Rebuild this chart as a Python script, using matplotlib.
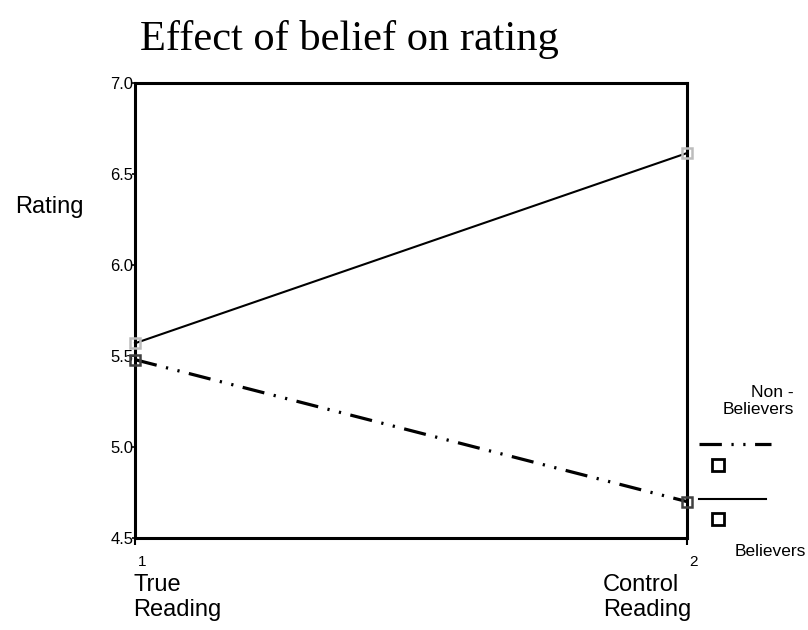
import matplotlib
matplotlib.use("Agg")
import matplotlib.pyplot as plt
from matplotlib.lines import Line2D
from matplotlib.transforms import ScaledTranslation

# ---- data ----
conditions = [1, 2]
believers = [5.57, 6.615]
non_believers = [5.48, 4.70]
category_labels = ["True\nReading", "Control\nReading"]
y_ticks = [4.5, 5.0, 5.5, 6.0, 6.5, 7.0]
y_tick_labels = ["4.5", "5.0", "5.5", "6.0", "6.5", "7.0"]
title = "Effect of belief on rating"
ylabel = "Rating"
series_names = ["Non -\nBelievers", "Believers"]

W, H = 808, 630
fig = plt.figure(figsize=(W / 100, H / 100), dpi=100)
plt.rcParams['font.family'] = ['Liberation Sans', 'DejaVu Sans']

def fx(px):
    return px / W

def fy(py):
    return 1 - py / H

ax = fig.add_axes([fx(135), fy(538), fx(687) - fx(135), fy(83) - fy(538)])

dash = (0, (7, 3, 0.7, 3, 0.7, 3))

ax.plot(conditions, believers, color='black', lw=1.5, zorder=3, clip_on=False)
ax.plot(conditions, believers, linestyle='none', marker='s', ms=7.5,
        mfc='none', mec='#bdbdbd', mew=1.8, zorder=4, clip_on=False)
ax.plot(conditions, non_believers, color='black', lw=2.3, linestyle=dash,
        zorder=3, clip_on=False)
ax.plot(conditions, non_believers, linestyle='none', marker='s', ms=7.5,
        mfc='none', mec='#404040', mew=1.8, zorder=4, clip_on=False)

ax.set_xlim(1, 2)
ax.set_ylim(4.5, 7.0)
ax.set_yticks(y_ticks)
ax.set_yticklabels(y_tick_labels, fontsize=12)
ax.set_xticks(conditions)
ax.set_xticklabels([str(c) for c in conditions], fontsize=11)
ax.tick_params(axis='y', direction='out', length=2.5, width=1.2, pad=-1.5)
ax.tick_params(axis='x', direction='out', length=5, width=1.5, pad=7)
for lab in ax.get_xticklabels():
    lab.set_transform(lab.get_transform() + ScaledTranslation(7 / 100, 0, fig.dpi_scale_trans))
for sp in ax.spines.values():
    sp.set_linewidth(2.2)
    sp.set_color('black')

# title and axis labels
fig.text(fx(140), fy(50), title, fontsize=30.5, family=['Liberation Serif', 'DejaVu Serif'],
         ha='left', va='baseline')
fig.text(fx(15), fy(207), ylabel, fontsize=17, ha='left', va='center')

cat_px = [133, 603]
for lab, px in zip(category_labels, cat_px):
    fig.text(fx(px), fy(574), lab, fontsize=17, ha='left', va='top', linespacing=1.2)

# legend (custom layout)
fig.add_artist(Line2D([fx(699), fx(771)], [fy(444), fy(444)], color='black', lw=2.3,
                      linestyle=dash, transform=fig.transFigure))
fig.add_artist(Line2D([fx(718)], [fy(465)], marker='s', ms=8, mfc='none', mec='black',
                      mew=2, linestyle='none', transform=fig.transFigure))
fig.add_artist(Line2D([fx(699), fx(766)], [fy(499), fy(499)], color='black', lw=1.5,
                      transform=fig.transFigure))
fig.add_artist(Line2D([fx(718)], [fy(519)], marker='s', ms=8, mfc='none', mec='black',
                      mew=2, linestyle='none', transform=fig.transFigure))
fig.text(fx(794), fy(401), series_names[0], fontsize=12.5, ha='right', va='center',
         multialignment='right', linespacing=1.1)
fig.text(fx(806), fy(552), series_names[1], fontsize=12.5, ha='right', va='center')

fig.savefig("out.png", dpi=100, facecolor='white')
